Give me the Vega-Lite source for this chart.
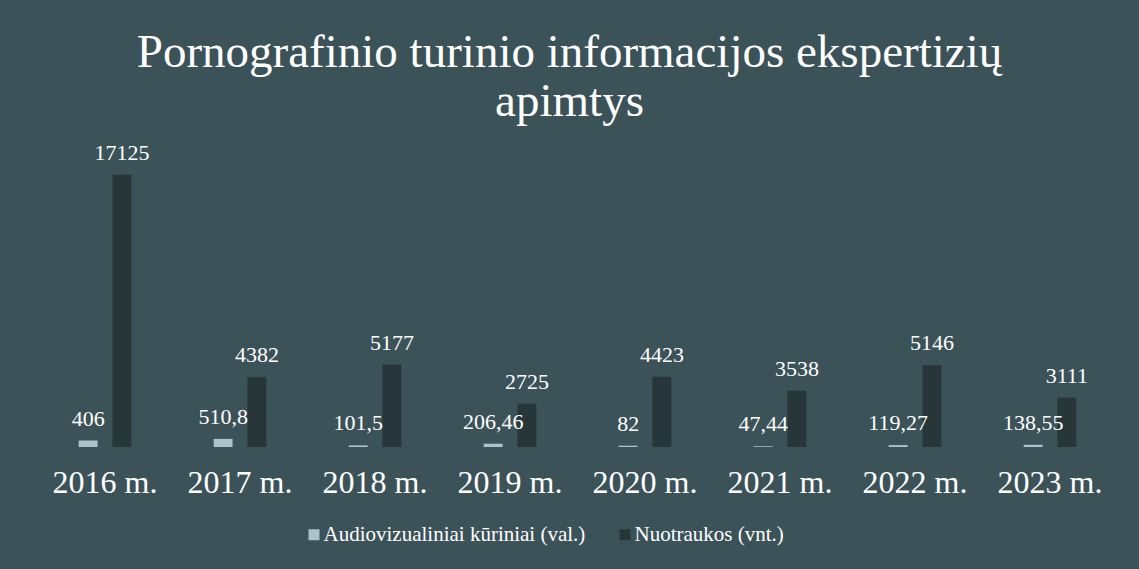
{
  "$schema": "https://vega.github.io/schema/vega-lite/v6.json",
  "autosize": {"type": "none"},
  "width": 1080,
  "height": 318,
  "padding": {"left": 37.5, "top": 129, "right": 21.5, "bottom": 122},
  "background": "#3c5259",
  "title": {
    "text": ["Pornografinio turinio informacijos ekspertizių", "apimtys"],
    "font": "Liberation Serif",
    "fontSize": 47,
    "fontWeight": "normal",
    "color": "#ffffff",
    "anchor": "middle",
    "lineHeight": 49,
    "baseline": "alphabetic",
    "offset": 11,
    "dy": 45,
    "dx": -8
  },
  "data": {
    "values": [
      {"metai": "2016 m.", "tipas": "Audiovizualiniai kūriniai (val.)", "kiekis": 406},
      {"metai": "2016 m.", "tipas": "Nuotraukos (vnt.)", "kiekis": 17125},
      {"metai": "2017 m.", "tipas": "Audiovizualiniai kūriniai (val.)", "kiekis": 510.8},
      {"metai": "2017 m.", "tipas": "Nuotraukos (vnt.)", "kiekis": 4382},
      {"metai": "2018 m.", "tipas": "Audiovizualiniai kūriniai (val.)", "kiekis": 101.5},
      {"metai": "2018 m.", "tipas": "Nuotraukos (vnt.)", "kiekis": 5177},
      {"metai": "2019 m.", "tipas": "Audiovizualiniai kūriniai (val.)", "kiekis": 206.46},
      {"metai": "2019 m.", "tipas": "Nuotraukos (vnt.)", "kiekis": 2725},
      {"metai": "2020 m.", "tipas": "Audiovizualiniai kūriniai (val.)", "kiekis": 82},
      {"metai": "2020 m.", "tipas": "Nuotraukos (vnt.)", "kiekis": 4423},
      {"metai": "2021 m.", "tipas": "Audiovizualiniai kūriniai (val.)", "kiekis": 47.44},
      {"metai": "2021 m.", "tipas": "Nuotraukos (vnt.)", "kiekis": 3538},
      {"metai": "2022 m.", "tipas": "Audiovizualiniai kūriniai (val.)", "kiekis": 119.27},
      {"metai": "2022 m.", "tipas": "Nuotraukos (vnt.)", "kiekis": 5146},
      {"metai": "2023 m.", "tipas": "Audiovizualiniai kūriniai (val.)", "kiekis": 138.55},
      {"metai": "2023 m.", "tipas": "Nuotraukos (vnt.)", "kiekis": 3111}
    ]
  },
  "encoding": {
    "x": {
      "field": "metai",
      "type": "nominal",
      "sort": null,
      "scale": {"paddingInner": 0.5, "paddingOuter": 0.25},
      "axis": {
        "title": null,
        "domain": false,
        "ticks": false,
        "labelAngle": 0,
        "labelFont": "Liberation Serif",
        "labelFontSize": 32,
        "labelColor": "#ffffff",
        "labelBaseline": "alphabetic",
        "labelPadding": 45
      }
    },
    "xOffset": {
      "field": "tipas",
      "type": "nominal",
      "sort": null,
      "scale": {"paddingInner": 0.44, "paddingOuter": 0.22}
    },
    "y": {
      "field": "kiekis",
      "type": "quantitative",
      "scale": {"domain": [0, 20000], "nice": false},
      "axis": null
    }
  },
  "layer": [
    {
      "mark": {"type": "bar"},
      "encoding": {
        "color": {
          "field": "tipas",
          "type": "nominal",
          "sort": null,
          "scale": {
            "domain": ["Audiovizualiniai kūriniai (val.)", "Nuotraukos (vnt.)"],
            "range": ["#a9c3c9", "#263639"]
          },
          "legend": {
            "title": null,
            "orient": "none",
            "legendX": 266,
            "legendY": 395,
            "direction": "horizontal",
            "symbolType": "square",
            "symbolSize": 121,
            "symbolStrokeWidth": 0,
            "labelFont": "Liberation Serif",
            "labelFontSize": 21,
            "labelColor": "#ffffff",
            "labelOffset": -1,
            "columnPadding": 29,
            "labelLimit": 400
          }
        }
      }
    },
    {
      "mark": {
        "type": "text",
        "baseline": "alphabetic",
        "dy": -15,
        "font": "Liberation Serif",
        "fontSize": 22,
        "color": "#ffffff"
      },
      "encoding": {
        "text": {"field": "kiekis", "type": "quantitative", "format": "~r"}
      }
    }
  ],
  "config": {
    "view": {"stroke": null},
    "locale": {
      "number": {
        "decimal": ",",
        "thousands": "",
        "grouping": [3],
        "currency": ["", " €"]
      }
    }
  }
}
